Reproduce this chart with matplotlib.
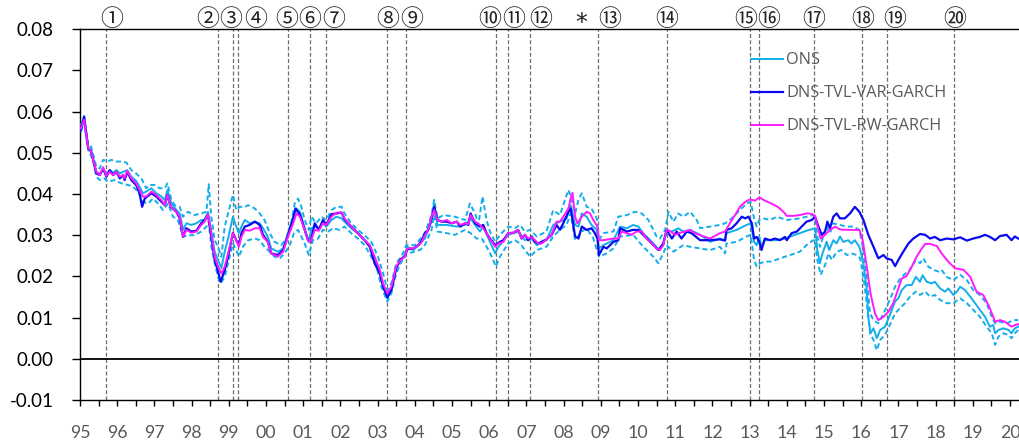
import matplotlib
matplotlib.use("Agg")
import matplotlib.pyplot as plt
import matplotlib.transforms as mtransforms
from matplotlib.ticker import MultipleLocator, FixedLocator

plt.rcParams['axes.unicode_minus'] = False

# ---------------- data (decimal years, values) ----------------
ons_t = [1995.02, 1995.11, 1995.22, 1995.30, 1995.44, 1995.53, 1995.62, 1995.71, 1995.80, 1995.89,
         1995.98, 1996.07, 1996.16, 1996.27, 1996.38, 1996.51, 1996.60, 1996.69, 1996.78, 1996.92,
         1997.05, 1997.19, 1997.28, 1997.35, 1997.44, 1997.59, 1997.68, 1997.77, 1997.86, 1997.99,
         1998.13, 1998.26, 1998.35, 1998.44, 1998.53, 1998.62, 1998.71, 1998.80, 1998.89, 1998.98,
         1999.11, 1999.20, 1999.27, 1999.34, 1999.43, 1999.56, 1999.70, 1999.83, 1999.92, 2000.05,
         2000.14, 2000.32, 2000.46, 2000.59, 2000.73, 2000.82, 2000.91, 2001.04, 2001.15, 2001.22,
         2001.31, 2001.42, 2001.53, 2001.62, 2001.76, 2001.89, 2002.03, 2002.11, 2002.29, 2002.47,
         2002.65, 2002.79, 2002.92, 2003.06, 2003.15, 2003.26, 2003.37, 2003.50, 2003.62, 2003.73,
         2003.80, 2003.96, 2004.27, 2004.45, 2004.52, 2004.61, 2004.86, 2005.13, 2005.35, 2005.50,
         2005.62, 2005.75, 2005.84, 2006.02, 2006.16, 2006.25, 2006.51, 2006.78, 2006.96, 2007.14,
         2007.28, 2007.54, 2007.72, 2007.90, 2008.08, 2008.19, 2008.31, 2008.40, 2008.49, 2008.62,
         2008.75, 2008.89, 2008.95, 2009.07, 2009.34, 2009.52, 2009.70, 2009.87, 2010.01, 2010.14,
         2010.37, 2010.57, 2010.68, 2010.77, 2010.91, 2011.08, 2011.22, 2011.40, 2011.67, 2011.94,
         2012.20, 2012.34, 2012.38, 2012.65, 2012.92, 2013.03, 2013.12, 2013.19, 2013.26, 2013.32,
         2013.41, 2013.73, 2013.95, 2014.09, 2014.35, 2014.53, 2014.76, 2014.82, 2014.89, 2014.96,
         2015.07, 2015.14, 2015.25, 2015.34, 2015.43, 2015.52, 2015.65, 2015.74, 2015.83, 2015.95,
         2016.06, 2016.15, 2016.19, 2016.25, 2016.33, 2016.42, 2016.51, 2016.64, 2016.77, 2016.91,
         2017.00, 2017.09, 2017.22, 2017.36, 2017.47, 2017.58, 2017.65, 2017.76, 2017.89, 2017.98,
         2018.12, 2018.25, 2018.34, 2018.48, 2018.57, 2018.66, 2018.79, 2018.93, 2019.06, 2019.19,
         2019.33, 2019.46, 2019.55, 2019.60, 2019.69, 2019.82, 2019.96, 2020.04, 2020.13, 2020.22]
ons_v = [.0559, .0581, .0513, .0507, .0454, .0449, .0460, .0450, .0458, .0452,
         .0458, .0450, .0454, .0458, .0442, .0432, .0418, .0402, .0406, .0414,
         .0402, .0394, .0385, .0410, .0381, .0361, .0353, .0313, .0329, .0325,
         .0329, .0337, .0337, .0357, .0309, .0260, .0240, .0220, .0260, .0292,
         .0345, .0321, .0305, .0321, .0337, .0329, .0333, .0329, .0317, .0296,
         .0268, .0260, .0268, .0305, .0345, .0365, .0357, .0317, .0284, .0317,
         .0321, .0317, .0329, .0321, .0337, .0345, .0341, .0333, .0317, .0305,
         .0288, .0276, .0244, .0207, .0175, .0147, .0167, .0220, .0240, .0252,
         .0272, .0264, .0292, .0333, .0377, .0325, .0325, .0321, .0325, .0341,
         .0325, .0309, .0321, .0284, .0256, .0272, .0301, .0309, .0288, .0292,
         .0276, .0288, .0325, .0333, .0341, .0373, .0325, .0321, .0353, .0345,
         .0325, .0313, .0268, .0276, .0288, .0321, .0317, .0325, .0321, .0305,
         .0284, .0264, .0276, .0313, .0309, .0317, .0309, .0313, .0301, .0284,
         .0292, .0288, .0305, .0313, .0325, .0329, .0284, .0276, .0297, .0272,
         .0288, .0288, .0292, .0297, .0305, .0311, .0317, .0264, .0232, .0256,
         .0284, .0264, .0288, .0280, .0297, .0284, .0288, .0280, .0288, .0272,
         .0232, .0167, .0102, .0062, .0074, .0050, .0070, .0078, .0106, .0139,
         .0147, .0167, .0179, .0179, .0199, .0187, .0203, .0187, .0183, .0187,
         .0171, .0163, .0171, .0155, .0163, .0175, .0167, .0151, .0135, .0119,
         .0102, .0078, .0082, .0062, .0070, .0074, .0070, .0062, .0074, .0078]

var_t = [1995.02, 1995.11, 1995.22, 1995.30, 1995.44, 1995.53, 1995.62, 1995.71, 1995.80, 1995.89,
         1995.98, 1996.07, 1996.16, 1996.20, 1996.27, 1996.38, 1996.51, 1996.60, 1996.67, 1996.74,
         1996.92, 1997.05, 1997.19, 1997.28, 1997.35, 1997.44, 1997.59, 1997.68, 1997.77, 1997.86,
         1997.99, 1998.13, 1998.26, 1998.35, 1998.44, 1998.53, 1998.62, 1998.71, 1998.78, 1998.89,
         1998.98, 1999.11, 1999.20, 1999.27, 1999.34, 1999.43, 1999.56, 1999.70, 1999.83, 1999.92,
         2000.05, 2000.14, 2000.32, 2000.46, 2000.59, 2000.73, 2000.79, 2000.91, 2001.04, 2001.13,
         2001.20, 2001.31, 2001.42, 2001.53, 2001.62, 2001.76, 2001.89, 2002.03, 2002.11, 2002.29,
         2002.47, 2002.65, 2002.79, 2002.92, 2003.06, 2003.15, 2003.26, 2003.37, 2003.50, 2003.62,
         2003.73, 2003.80, 2003.96, 2004.10, 2004.19, 2004.27, 2004.36, 2004.45, 2004.52, 2004.61,
         2004.72, 2004.86, 2004.99, 2005.13, 2005.22, 2005.35, 2005.44, 2005.50, 2005.62, 2005.75,
         2005.84, 2005.93, 2006.02, 2006.16, 2006.29, 2006.38, 2006.51, 2006.65, 2006.78, 2006.87,
         2006.96, 2007.05, 2007.14, 2007.23, 2007.32, 2007.41, 2007.54, 2007.68, 2007.81, 2007.90,
         2007.99, 2008.13, 2008.19, 2008.31, 2008.40, 2008.49, 2008.62, 2008.75, 2008.84, 2008.91,
         2008.95, 2009.07, 2009.16, 2009.34, 2009.47, 2009.52, 2009.70, 2009.87, 2010.01, 2010.14,
         2010.37, 2010.55, 2010.68, 2010.77, 2010.91, 2011.04, 2011.17, 2011.31, 2011.44, 2011.67,
         2011.94, 2012.20, 2012.34, 2012.38, 2012.52, 2012.65, 2012.79, 2012.88, 2012.97, 2013.06,
         2013.12, 2013.19, 2013.26, 2013.32, 2013.41, 2013.55, 2013.68, 2013.82, 2013.95, 2014.00,
         2014.13, 2014.27, 2014.40, 2014.53, 2014.67, 2014.76, 2014.85, 2014.94, 2015.03, 2015.09,
         2015.16, 2015.25, 2015.34, 2015.43, 2015.56, 2015.70, 2015.83, 2015.95, 2016.06, 2016.19,
         2016.33, 2016.46, 2016.60, 2016.68, 2016.82, 2016.91, 2017.00, 2017.13, 2017.27, 2017.40,
         2017.58, 2017.72, 2017.85, 2017.98, 2018.12, 2018.30, 2018.48, 2018.66, 2018.84, 2019.01,
         2019.19, 2019.33, 2019.46, 2019.60, 2019.73, 2019.91, 2020.04, 2020.13, 2020.22]
var_v = [.0555, .0588, .0511, .0503, .0450, .0446, .0462, .0442, .0458, .0446,
         .0454, .0438, .0446, .0434, .0454, .0434, .0422, .0402, .0369, .0389,
         .0402, .0394, .0381, .0373, .0398, .0369, .0357, .0341, .0296, .0317,
         .0309, .0311, .0329, .0337, .0349, .0296, .0240, .0212, .0187, .0215,
         .0248, .0306, .0288, .0276, .0305, .0321, .0325, .0333, .0325, .0301,
         .0284, .0256, .0252, .0264, .0300, .0341, .0365, .0351, .0313, .0288,
         .0284, .0329, .0313, .0337, .0325, .0351, .0353, .0355, .0339, .0321,
         .0305, .0288, .0272, .0232, .0207, .0175, .0149, .0167, .0220, .0242,
         .0248, .0266, .0268, .0276, .0288, .0305, .0313, .0341, .0369, .0337,
         .0333, .0333, .0329, .0333, .0321, .0329, .0325, .0353, .0329, .0321,
         .0325, .0305, .0292, .0276, .0284, .0288, .0305, .0306, .0313, .0292,
         .0301, .0288, .0297, .0284, .0280, .0284, .0290, .0301, .0325, .0313,
         .0329, .0357, .0365, .0297, .0292, .0321, .0313, .0317, .0305, .0292,
         .0252, .0272, .0268, .0284, .0288, .0317, .0309, .0313, .0313, .0301,
         .0280, .0264, .0280, .0313, .0292, .0309, .0292, .0309, .0305, .0288,
         .0288, .0290, .0287, .0313, .0317, .0329, .0345, .0341, .0345, .0329,
         .0292, .0296, .0284, .0264, .0292, .0288, .0292, .0288, .0296, .0288,
         .0305, .0309, .0321, .0333, .0337, .0345, .0321, .0301, .0309, .0333,
         .0317, .0345, .0353, .0341, .0341, .0353, .0369, .0357, .0337, .0301,
         .0272, .0244, .0252, .0244, .0240, .0225, .0240, .0260, .0280, .0292,
         .0303, .0301, .0292, .0296, .0288, .0292, .0290, .0295, .0287, .0292,
         .0296, .0301, .0296, .0288, .0298, .0301, .0288, .0297, .0292]

rw_t = [1995.02, 1995.11, 1995.22, 1995.30, 1995.44, 1995.53, 1995.62, 1995.71, 1995.80, 1995.89,
        1995.98, 1996.07, 1996.16, 1996.20, 1996.27, 1996.38, 1996.51, 1996.60, 1996.69, 1996.78,
        1996.92, 1997.05, 1997.19, 1997.28, 1997.35, 1997.44, 1997.59, 1997.68, 1997.77, 1997.86,
        1997.99, 1998.13, 1998.26, 1998.35, 1998.44, 1998.53, 1998.62, 1998.71, 1998.80, 1998.89,
        1998.98, 1999.11, 1999.20, 1999.27, 1999.34, 1999.43, 1999.56, 1999.70, 1999.83, 1999.92,
        2000.05, 2000.14, 2000.32, 2000.46, 2000.59, 2000.73, 2000.82, 2000.91, 2001.04, 2001.13,
        2001.20, 2001.31, 2001.42, 2001.53, 2001.62, 2001.76, 2001.89, 2002.03, 2002.11, 2002.29,
        2002.47, 2002.65, 2002.79, 2002.92, 2003.06, 2003.15, 2003.26, 2003.37, 2003.50, 2003.62,
        2003.73, 2003.80, 2003.96, 2004.10, 2004.19, 2004.27, 2004.36, 2004.45, 2004.52, 2004.61,
        2004.72, 2004.86, 2004.99, 2005.13, 2005.22, 2005.35, 2005.44, 2005.50, 2005.62, 2005.75,
        2005.84, 2005.93, 2006.02, 2006.16, 2006.25, 2006.38, 2006.51, 2006.65, 2006.78, 2006.87,
        2006.96, 2007.05, 2007.14, 2007.23, 2007.32, 2007.41, 2007.54, 2007.68, 2007.81, 2007.90,
        2007.99, 2008.13, 2008.19, 2008.24, 2008.31, 2008.37, 2008.49, 2008.62, 2008.71, 2008.80,
        2008.91, 2008.95, 2009.07, 2009.20, 2009.34, 2009.47, 2009.56, 2009.70, 2009.83, 2009.96,
        2010.10, 2010.23, 2010.37, 2010.50, 2010.59, 2010.68, 2010.77, 2010.88, 2010.99, 2011.13,
        2011.26, 2011.40, 2011.53, 2011.67, 2011.94, 2012.20, 2012.34, 2012.47, 2012.61, 2012.74,
        2012.88, 2013.01, 2013.15, 2013.26, 2013.41, 2013.59, 2013.77, 2013.91, 2014.00, 2014.18,
        2014.35, 2014.53, 2014.67, 2014.76, 2014.85, 2014.91, 2015.03, 2015.16, 2015.30, 2015.43,
        2015.61, 2015.79, 2015.95, 2016.04, 2016.15, 2016.25, 2016.37, 2016.46, 2016.60, 2016.73,
        2016.86, 2016.97, 2017.09, 2017.22, 2017.36, 2017.49, 2017.60, 2017.72, 2017.85, 2018.03,
        2018.16, 2018.34, 2018.52, 2018.75, 2018.93, 2019.10, 2019.28, 2019.44, 2019.60, 2019.73,
        2019.87, 2020.04, 2020.13, 2020.22]
rw_v = [.0559, .0580, .0513, .0503, .0454, .0446, .0465, .0444, .0454, .0446,
        .0454, .0442, .0446, .0438, .0457, .0438, .0426, .0410, .0394, .0394,
        .0406, .0398, .0385, .0373, .0398, .0369, .0357, .0345, .0296, .0313,
        .0306, .0309, .0325, .0333, .0351, .0305, .0248, .0224, .0207, .0224,
        .0256, .0305, .0288, .0272, .0296, .0313, .0311, .0317, .0317, .0296,
        .0284, .0256, .0248, .0260, .0296, .0329, .0353, .0345, .0313, .0288,
        .0284, .0313, .0311, .0329, .0325, .0345, .0355, .0355, .0341, .0321,
        .0305, .0288, .0276, .0248, .0216, .0183, .0159, .0175, .0224, .0240,
        .0248, .0268, .0268, .0276, .0284, .0300, .0313, .0345, .0361, .0337,
        .0333, .0337, .0329, .0333, .0325, .0329, .0327, .0349, .0333, .0325,
        .0317, .0305, .0292, .0272, .0280, .0284, .0305, .0306, .0313, .0292,
        .0301, .0292, .0295, .0288, .0280, .0280, .0290, .0301, .0333, .0333,
        .0345, .0365, .0390, .0403, .0345, .0329, .0345, .0357, .0353, .0337,
        .0321, .0288, .0288, .0290, .0292, .0292, .0309, .0305, .0301, .0309,
        .0309, .0292, .0280, .0268, .0264, .0276, .0313, .0309, .0301, .0306,
        .0309, .0313, .0305, .0300, .0292, .0305, .0309, .0329, .0349, .0369,
        .0381, .0387, .0384, .0392, .0384, .0377, .0368, .0357, .0347, .0347,
        .0349, .0353, .0352, .0347, .0313, .0292, .0301, .0313, .0321, .0314,
        .0313, .0313, .0313, .0288, .0224, .0159, .0110, .0094, .0102, .0114,
        .0135, .0163, .0195, .0201, .0224, .0248, .0264, .0279, .0279, .0274,
        .0256, .0236, .0220, .0216, .0199, .0163, .0155, .0127, .0090, .0094,
        .0090, .0078, .0082, .0084]

upper_t = [1995.02, 1995.11, 1995.22, 1995.30, 1995.44, 1995.53, 1995.62, 1995.75, 1995.84, 1995.98,
           1996.16, 1996.25, 1996.38, 1996.51, 1996.65, 1996.78, 1996.87, 1997.01, 1997.14, 1997.28,
           1997.35, 1997.46, 1997.55, 1997.68, 1997.77, 1997.90, 1998.08, 1998.26, 1998.40, 1998.46,
           1998.53, 1998.62, 1998.71, 1998.80, 1998.89, 1998.98, 1999.11, 1999.20, 1999.29, 1999.43,
           1999.52, 1999.70, 1999.83, 1999.96, 2000.10, 2000.23, 2000.41, 2000.55, 2000.68, 2000.77,
           2000.86, 2000.95, 2001.04, 2001.15, 2001.22, 2001.35, 2001.49, 2001.62, 2001.76, 2001.89,
           2002.03, 2002.11, 2002.29, 2002.47, 2002.65, 2002.83, 2003.01, 2003.15, 2003.26, 2003.37,
           2003.50, 2003.64, 2003.77, 2004.01, 2004.27, 2004.45, 2004.52, 2004.61, 2004.77, 2005.08,
           2005.35, 2005.48, 2005.62, 2005.71, 2005.82, 2005.93, 2006.02, 2006.16, 2006.29, 2006.51,
           2006.69, 2006.83, 2006.96, 2007.10, 2007.28, 2007.54, 2007.72, 2007.90, 2008.13, 2008.22,
           2008.31, 2008.40, 2008.49, 2008.62, 2008.75, 2008.89, 2008.95, 2009.07, 2009.34, 2009.47,
           2009.70, 2009.92, 2010.10, 2010.28, 2010.50, 2010.59, 2010.73, 2010.82, 2010.95, 2011.08,
           2011.22, 2011.40, 2011.58, 2011.67, 2011.94, 2012.20, 2012.34, 2012.47, 2012.65, 2012.92,
           2013.03, 2013.12, 2013.19, 2013.26, 2013.37, 2013.55, 2013.73, 2014.00, 2014.35, 2014.53,
           2014.71, 2014.76, 2014.82, 2014.89, 2014.98, 2015.07, 2015.16, 2015.25, 2015.43, 2015.61,
           2015.79, 2015.95, 2016.06, 2016.15, 2016.24, 2016.33, 2016.46, 2016.60, 2016.77, 2016.91,
           2017.02, 2017.15, 2017.31, 2017.47, 2017.58, 2017.67, 2017.80, 2017.94, 2018.07, 2018.16,
           2018.30, 2018.48, 2018.66, 2018.84, 2019.01, 2019.19, 2019.37, 2019.51, 2019.60, 2019.73,
           2019.91, 2020.09, 2020.22]
upper_v = [.0567, .0589, .0519, .0515, .0466, .0462, .0483, .0479, .0483, .0479,
           .0479, .0476, .0458, .0450, .0438, .0414, .0422, .0422, .0414, .0414,
           .0426, .0385, .0373, .0369, .0345, .0357, .0349, .0353, .0357, .0424,
           .0345, .0288, .0272, .0248, .0321, .0353, .0398, .0361, .0369, .0369,
           .0373, .0365, .0353, .0337, .0305, .0284, .0276, .0292, .0329, .0377,
           .0389, .0369, .0337, .0313, .0345, .0329, .0345, .0337, .0361, .0369,
           .0369, .0353, .0329, .0313, .0300, .0284, .0248, .0207, .0167, .0183,
           .0232, .0248, .0276, .0276, .0305, .0349, .0386, .0341, .0349, .0345,
           .0337, .0377, .0353, .0325, .0394, .0337, .0309, .0284, .0301, .0321,
           .0317, .0325, .0309, .0313, .0297, .0309, .0361, .0349, .0410, .0386,
           .0353, .0386, .0402, .0369, .0365, .0341, .0288, .0305, .0309, .0345,
           .0349, .0357, .0353, .0337, .0297, .0292, .0313, .0357, .0333, .0353,
           .0345, .0357, .0337, .0317, .0321, .0325, .0329, .0337, .0353, .0377,
           .0381, .0341, .0321, .0337, .0341, .0337, .0345, .0337, .0341, .0345,
           .0349, .0345, .0297, .0272, .0297, .0321, .0305, .0329, .0325, .0321,
           .0321, .0313, .0264, .0191, .0110, .0094, .0086, .0110, .0143, .0175,
           .0191, .0204, .0216, .0240, .0232, .0244, .0224, .0216, .0212, .0216,
           .0199, .0191, .0204, .0191, .0167, .0155, .0135, .0102, .0086, .0090,
           .0086, .0094, .0094]

lower_t = [1995.02, 1995.11, 1995.22, 1995.35, 1995.44, 1995.53, 1995.66, 1995.75, 1995.93, 1996.11,
           1996.29, 1996.42, 1996.56, 1996.69, 1996.83, 1996.96, 1997.10, 1997.23, 1997.37, 1997.50,
           1997.63, 1997.77, 1997.90, 1998.08, 1998.26, 1998.40, 1998.46, 1998.53, 1998.62, 1998.71,
           1998.78, 1998.89, 1998.98, 1999.11, 1999.20, 1999.27, 1999.38, 1999.52, 1999.70, 1999.83,
           1999.96, 2000.10, 2000.23, 2000.37, 2000.50, 2000.64, 2000.75, 2000.86, 2000.95, 2001.04,
           2001.15, 2001.26, 2001.40, 2001.53, 2001.67, 2001.80, 2001.98, 2002.11, 2002.29, 2002.47,
           2002.65, 2002.83, 2002.97, 2003.10, 2003.26, 2003.37, 2003.50, 2003.62, 2003.77, 2003.83,
           2004.14, 2004.27, 2004.45, 2004.52, 2004.61, 2004.86, 2005.08, 2005.35, 2005.50, 2005.66,
           2005.80, 2005.93, 2006.07, 2006.18, 2006.29, 2006.51, 2006.69, 2006.83, 2006.96, 2007.10,
           2007.28, 2007.54, 2007.72, 2007.90, 2008.08, 2008.19, 2008.31, 2008.49, 2008.62, 2008.80,
           2008.95, 2009.16, 2009.34, 2009.52, 2009.87, 2010.14, 2010.41, 2010.55, 2010.68, 2010.77,
           2010.95, 2011.22, 2011.40, 2011.67, 2011.94, 2012.20, 2012.34, 2012.38, 2012.65, 2012.92,
           2013.03, 2013.12, 2013.19, 2013.28, 2013.41, 2013.59, 2013.82, 2014.09, 2014.35, 2014.53,
           2014.71, 2014.76, 2014.82, 2014.91, 2015.03, 2015.12, 2015.21, 2015.34, 2015.47, 2015.61,
           2015.74, 2015.88, 2015.97, 2016.06, 2016.15, 2016.24, 2016.33, 2016.42, 2016.51, 2016.64,
           2016.77, 2016.91, 2017.04, 2017.18, 2017.31, 2017.47, 2017.58, 2017.72, 2017.85, 2017.98,
           2018.12, 2018.30, 2018.48, 2018.66, 2018.84, 2019.01, 2019.19, 2019.37, 2019.51, 2019.60,
           2019.69, 2019.82, 2019.96, 2020.04, 2020.13, 2020.22]
lower_v = [.0551, .0572, .0507, .0483, .0442, .0434, .0438, .0430, .0434, .0426,
           .0422, .0418, .0406, .0381, .0377, .0389, .0377, .0361, .0377, .0345,
           .0337, .0296, .0300, .0300, .0309, .0321, .0333, .0272, .0232, .0199,
           .0183, .0199, .0232, .0280, .0264, .0248, .0272, .0288, .0292, .0288,
           .0272, .0260, .0248, .0244, .0256, .0276, .0305, .0313, .0297, .0280,
           .0252, .0288, .0292, .0313, .0309, .0317, .0313, .0321, .0305, .0292,
           .0276, .0248, .0224, .0175, .0139, .0159, .0207, .0232, .0256, .0256,
           .0264, .0276, .0313, .0349, .0309, .0305, .0301, .0313, .0305, .0292,
           .0292, .0272, .0248, .0224, .0248, .0280, .0288, .0280, .0264, .0248,
           .0264, .0272, .0297, .0313, .0325, .0353, .0288, .0309, .0317, .0292,
           .0248, .0256, .0268, .0297, .0301, .0272, .0248, .0232, .0256, .0276,
           .0260, .0276, .0272, .0268, .0264, .0272, .0256, .0280, .0284, .0297,
           .0301, .0240, .0224, .0232, .0236, .0236, .0244, .0252, .0260, .0276,
           .0288, .0288, .0240, .0204, .0228, .0256, .0240, .0260, .0264, .0252,
           .0256, .0252, .0244, .0199, .0135, .0062, .0046, .0021, .0046, .0058,
           .0082, .0110, .0123, .0135, .0151, .0163, .0155, .0163, .0151, .0155,
           .0143, .0135, .0135, .0147, .0135, .0119, .0102, .0078, .0062, .0034,
           .0054, .0062, .0058, .0050, .0062, .0070]

event_years = [1995.70, 1998.70, 1999.11, 1999.24, 2000.60, 2001.18, 2001.60, 2003.26, 2003.76,
               2006.17, 2006.51, 2007.11, 2008.93, 2010.77, 2013.01, 2013.26, 2014.74, 2016.01,
               2016.69, 2018.49]
event_labels = ['①', '②', '③', '④', '⑤', '⑥', '⑦', '⑧', '⑨', '⑩', '⑪', '⑫', '*', '⑬', '⑭',
                '⑮', '⑯', '⑰', '⑱', '⑲', '⑳']
event_label_years = [1995.85, 1998.43, 1999.06, 1999.72, 2000.56, 2001.18, 2001.83, 2003.27,
                     2003.92, 2006.02, 2006.65, 2007.38, 2008.47, 2009.23, 2010.77, 2012.90,
                     2013.50, 2014.71, 2016.03, 2016.91, 2018.52]

year_ticks = list(range(1995, 2021))
year_labels = ['%02d' % (y % 100) for y in year_ticks]
y_ticks = [-0.01, 0.00, 0.01, 0.02, 0.03, 0.04, 0.05, 0.06, 0.07, 0.08]

# ---------------- figure ----------------
W, H = 1020, 445
fig = plt.figure(figsize=(W / 100, H / 100), dpi=100)
ax = fig.add_axes([80 / W, (H - 400) / H, 939 / W, (400 - 29.3) / H])

c_ons = '#12AEEB'
c_var = '#0A0AF0'
c_rw = '#FF1AFF'

for yr in event_years:
    ax.axvline(yr, color='#6E6E6E', lw=0.9, ls=(0, (3.2, 1.8)), zorder=1)

ax.axhline(0.0, color='black', lw=1.3, zorder=2)

ax.plot(upper_t, upper_v, color=c_ons, lw=1.4, ls=(0, (2.6, 1.6)), zorder=3)
ax.plot(lower_t, lower_v, color=c_ons, lw=1.4, ls=(0, (2.6, 1.6)), zorder=3)
l1, = ax.plot(ons_t, ons_v, color=c_ons, lw=1.4, zorder=4, label='ONS')
l2, = ax.plot(var_t, var_v, color=c_var, lw=1.6, zorder=5, label='DNS-TVL-VAR-GARCH')
l3, = ax.plot(rw_t, rw_v, color=c_rw, lw=1.4, zorder=6, label='DNS-TVL-RW-GARCH')

ax.set_xlim(1995.0, 1995.0 + 939 / 37.2)
ax.set_ylim(-0.01, 0.08)

ax.spines['right'].set_visible(False)
for s in ['left', 'bottom', 'top']:
    ax.spines[s].set_color('black')
    ax.spines[s].set_linewidth(1.0)

ax.yaxis.set_major_locator(FixedLocator(y_ticks))
ax.set_yticklabels(['%.2f' % v for v in y_ticks])
ax.tick_params(axis='y', direction='out', length=6, width=1.0, pad=13,
               labelsize=13.5, labelcolor='black')

ax.xaxis.set_major_locator(FixedLocator(year_ticks))
ax.set_xticklabels(year_labels)
ax.xaxis.set_minor_locator(MultipleLocator(0.5))
ax.tick_params(axis='x', which='both', direction='out', length=4, width=1.0)
ax.tick_params(axis='x', which='major', pad=14, labelsize=12.8, labelcolor='#595959')

for lab in ax.get_xticklabels() + ax.get_yticklabels():
    lab.set_fontfamily('Lato')

trans = mtransforms.blended_transform_factory(ax.transData, ax.transAxes)
for lbl, yr in zip(event_labels, event_label_years):
    if lbl == '*':
        ax.text(yr, 1.018, '*', transform=trans, ha='center', va='center',
                fontsize=17, color='#222222', family=['DejaVu Sans'])
    else:
        ax.text(yr, 1.026, lbl, transform=trans, ha='center', va='center',
                fontsize=16.5, color='#222222', family=['Noto Sans CJK JP', 'DejaVu Sans'])

leg = ax.legend(handles=[l1, l2, l3], loc='upper left', bbox_to_anchor=(0.7146, 0.938),
                frameon=False, handlelength=1.95, handletextpad=0.2, labelspacing=1.05,
                borderpad=0.0, borderaxespad=0.0,
                prop={'family': 'Open Sans', 'size': 11.7})
for t in leg.get_texts():
    t.set_color('#595959')

fig.savefig('out.png', dpi=100)
